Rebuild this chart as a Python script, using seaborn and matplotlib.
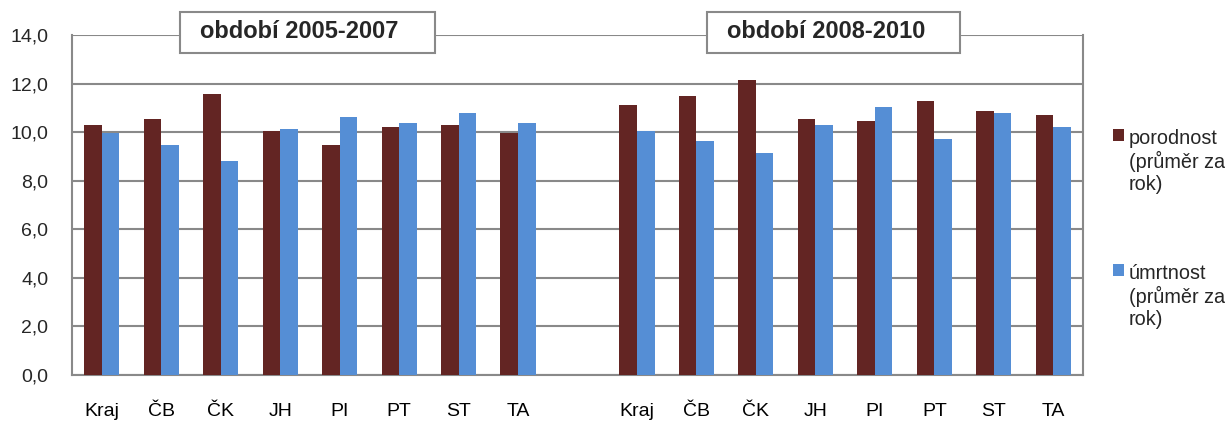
import pandas as pd
import matplotlib.pyplot as plt
import seaborn as sns
from matplotlib.patches import Rectangle
from matplotlib.ticker import FuncFormatter, FixedLocator

# ----------------------------------------------------------------------------
# Data (per 1000 inhabitants)
# ----------------------------------------------------------------------------
regions = ["Kraj", "ČB", "ČK", "JH", "PI", "PT", "ST", "TA"]
periods = ["období 2005-2007", "období 2008-2010"]
birth_2005 = [10.28, 10.53, 11.58, 10.05, 9.47, 10.21, 10.28, 9.98]
death_2005 = [9.95, 9.47, 8.83, 10.13, 10.61, 10.36, 10.77, 10.36]
birth_2008 = [11.10, 11.50, 12.16, 10.54, 10.44, 11.27, 10.86, 10.69]
death_2008 = [10.05, 9.63, 9.14, 10.29, 11.02, 9.72, 10.77, 10.21]
series = ["porodnost\n(průměr za\nrok)", "úmrtnost\n(průměr za\nrok)"]

RED = "#632523"
BLUE = "#558ED5"
GREY = "#898989"

# long table, one empty slot between the two periods
rows = []
for i, r in enumerate(regions):
    rows.append(("A " + r, series[0], birth_2005[i]))
    rows.append(("A " + r, series[1], death_2005[i]))
for i, r in enumerate(regions):
    rows.append(("B " + r, series[0], birth_2008[i]))
    rows.append(("B " + r, series[1], death_2008[i]))
df = pd.DataFrame(rows, columns=["slot", "ukazatel", "hodnota"])
order = ["A " + r for r in regions] + ["-"] + ["B " + r for r in regions]
df["slot"] = pd.Categorical(df["slot"], categories=order)

sns.set_style("white")
plt.rcParams["font.family"] = ["Liberation Sans", "DejaVu Sans"]

W, H = 1225, 421
fig = plt.figure(figsize=(W / 100, H / 100), dpi=100)
ax = fig.add_axes([72 / W, 46 / H, 1011 / W, 340 / H])

sns.barplot(data=df, x="slot", y="hodnota", hue="ukazatel", order=order,
            hue_order=series, palette=[RED, BLUE], width=0.59, gap=0,
            saturation=1, errorbar=None, ax=ax, linewidth=0, zorder=3)

ax.set_xlim(-0.5, len(order) - 0.5)
ax.set_ylim(0, 14)
ax.set_yticks(range(0, 15, 2))
ax.yaxis.set_major_formatter(FuncFormatter(lambda v, p: f"{v:.1f}".replace(".", ",")))
ax.set_xticks(range(len(order)))
ax.set_xticklabels(regions + [""] + regions)
ax.xaxis.set_minor_locator(FixedLocator([x - 0.5 for x in range(len(order) + 1)]))
ax.tick_params(axis="x", which="major", length=0, pad=20, labelsize=14, colors="black")
ax.tick_params(axis="x", which="minor", length=5, width=1.5, color=GREY, direction="out")
ax.tick_params(axis="y", length=4, width=1.5, color=GREY, pad=13, labelsize=14)
ax.set_xlabel("")
ax.set_ylabel("")
ax.grid(axis="y", color=GREY, linewidth=1.5, zorder=0)
ax.set_axisbelow(True)
for s in ax.spines.values():
    s.set_color(GREY)
    s.set_linewidth(1.5)
ax.spines["top"].set_visible(False)

handles, labels = ax.get_legend_handles_labels()
leg = ax.legend(handles, labels, loc="upper left", bbox_to_anchor=(1113 / W, 1 - 129 / H),
                bbox_transform=fig.transFigure, frameon=False, fontsize=14.3,
                handlelength=0.55, handleheight=0.55, handletextpad=0.25,
                labelspacing=3.5, borderpad=0, borderaxespad=0)
# square next to the first line of each label, as in the original
for col in leg._legend_handle_box.get_children():
    for row in col.get_children():
        row.align = "top"

# period title boxes
boxes = [(180, 435, 200), (707, 960, 727)]
for (x0, x1, tx), title in zip(boxes, periods):
    fig.patches.append(Rectangle((x0 / W, 1 - 53 / H), (x1 - x0) / W, 41 / H,
                                 transform=fig.transFigure, facecolor="white",
                                 edgecolor=GREY, linewidth=1.5, zorder=5))
    fig.text(tx / W, 1 - 32 / H, title, fontsize=17, fontweight="bold",
             ha="left", va="center", zorder=6)

fig.savefig("out.png", dpi=100)
